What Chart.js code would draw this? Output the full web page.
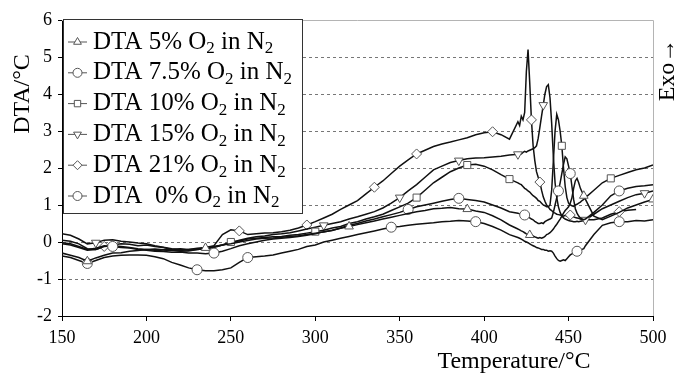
<!DOCTYPE html>
<html>
<head>
<meta charset="utf-8">
<script src="https://cdn.jsdelivr.net/npm/chart.js@4/dist/chart.umd.min.js"></script>
<style>
  body { margin: 0; background: #fff; }
  canvas { display: block; }
</style>
</head>
<body>
<canvas id="dta" width="682" height="378"></canvas>
<script>
// temperatures (°C), finer steps around the exothermic peaks
const temps = [150,155,160,165,170,175,180,185,190,195,200,205,210,215,220,225,230,235,240,245,
  250,255,260,265,270,275,280,285,290,295,300,305,310,315,320,325,330,335,340,345,
  350,355,360,365,370,375,380,385,390,395,400,405,410,415,
  420,421,422,423,424,425,426,427,428,429,430,431,432,433,434,435,436,437,438,439,440,
  441,442,443,444,445,446,447,448,449,450,451,452,453,454,455,456,457,458,459,460,
  465,470,475,480,485,490,495,500]

// DTA signal (°C) for each O2 level
const dta5 = [-0.3,-0.36,-0.42,-0.52,-0.43,-0.36,-0.3,-0.29,-0.25,-0.23,-0.2,-0.19,-0.21,-0.2,-0.23,-0.2,-0.19,-0.16,-0.13,-0.08,
  -0.05,0.0,0.04,0.08,0.1,0.11,0.13,0.15,0.17,0.2,0.24,0.27,0.32,0.37,0.42,0.47,0.52,0.57,0.62,0.67,
  0.72,0.77,0.82,0.85,0.9,0.91,0.93,0.9,0.89,0.84,0.8,0.71,0.6,0.46,
  0.35,0.33,0.3,0.28,0.25,0.22,0.2,0.19,0.17,0.16,0.14,0.12,0.1,0.12,0.1,0.12,0.15,0.2,0.22,0.25,0.3,
  0.35,0.42,0.48,0.55,0.62,0.7,0.78,0.85,0.9,0.95,1.05,1.2,1.45,1.65,1.72,1.6,1.45,1.35,1.25,1.15,
  0.7,0.6,0.7,0.8,0.92,1.0,1.08,1.15]

const dta75 = [-0.02,-0.05,-0.12,-0.2,-0.17,-0.1,-0.12,-0.15,-0.16,-0.2,-0.22,-0.25,-0.26,-0.28,-0.27,-0.3,-0.3,-0.32,-0.3,-0.25,
  -0.18,-0.1,-0.05,0.0,0.05,0.08,0.1,0.12,0.15,0.18,0.22,0.28,0.31,0.38,0.45,0.5,0.57,0.62,0.68,0.74,
  0.8,0.88,0.95,1.0,1.05,1.1,1.15,1.18,1.15,1.12,1.08,1.0,0.92,0.82,
  0.78,0.76,0.75,0.74,0.73,0.7,0.68,0.65,0.62,0.6,0.56,0.53,0.5,0.5,0.52,0.5,0.55,0.58,0.6,0.62,0.65,
  0.8,1.0,1.2,1.38,1.6,1.85,2.1,2.3,2.25,2.05,1.85,1.5,1.15,0.9,0.78,0.7,0.65,0.62,0.6,0.62,
  0.8,1.0,1.25,1.38,1.45,1.5,1.52,1.55]

const dta10 = [-0.05,-0.08,-0.15,-0.22,-0.2,-0.12,-0.1,-0.12,-0.15,-0.18,-0.2,-0.22,-0.24,-0.22,-0.25,-0.24,-0.2,-0.18,-0.15,-0.08,
  0.0,0.03,0.08,0.1,0.12,0.14,0.15,0.18,0.2,0.24,0.28,0.32,0.38,0.42,0.5,0.55,0.62,0.68,0.75,0.85,
  0.95,1.05,1.2,1.4,1.6,1.75,1.9,2.0,2.08,2.1,2.05,1.95,1.82,1.7,
  1.6,1.57,1.55,1.5,1.45,1.42,1.38,1.35,1.3,1.25,1.22,1.18,1.12,1.1,1.05,1.0,0.98,0.95,0.95,1.0,1.4,
  2.2,3.0,3.45,3.3,3.0,2.6,2.0,1.5,1.2,1.05,1.0,0.98,0.96,1.0,1.02,1.05,1.08,1.12,1.15,1.2,
  1.4,1.6,1.72,1.8,1.88,1.95,2.0,2.08]

const dta15 = [0.22,0.18,0.08,-0.05,-0.02,0.05,0.06,0.02,0.0,-0.03,-0.05,-0.1,-0.14,-0.18,-0.2,-0.22,-0.2,-0.18,-0.12,-0.08,
  -0.02,0.05,0.1,0.14,0.16,0.2,0.22,0.25,0.3,0.35,0.4,0.45,0.5,0.55,0.62,0.68,0.75,0.82,0.92,1.05,
  1.2,1.38,1.55,1.75,1.95,2.05,2.15,2.2,2.25,2.27,2.28,2.3,2.32,2.35,
  2.37,2.4,2.38,2.42,2.45,2.43,2.46,2.48,2.5,2.52,2.55,2.6,2.8,3.1,3.4,3.7,4.0,4.2,4.25,3.9,3.2,
  2.3,1.6,1.2,0.95,0.8,0.7,0.65,0.62,0.6,0.58,0.57,0.56,0.55,0.55,0.56,0.55,0.56,0.57,0.58,0.6,
  0.75,0.9,1.0,1.1,1.2,1.28,1.32,1.38]

const dta21 = [0.05,0.02,-0.05,-0.18,-0.2,-0.12,-0.08,-0.05,-0.06,-0.1,-0.08,-0.12,-0.15,-0.2,-0.18,-0.2,-0.17,-0.15,-0.1,0.2,
  0.33,0.3,0.2,0.22,0.24,0.25,0.28,0.32,0.38,0.46,0.55,0.65,0.75,0.88,1.0,1.12,1.3,1.48,1.65,1.85,
  2.05,2.22,2.38,2.48,2.58,2.65,2.7,2.76,2.82,2.9,2.95,2.98,2.9,2.78,
  3.25,3.15,3.4,3.3,3.5,4.6,5.2,4.3,3.3,2.6,2.2,1.9,1.75,1.62,1.4,1.22,1.1,1.0,0.95,0.88,0.85,
  0.8,0.78,0.75,0.74,0.73,0.72,0.7,0.72,0.7,0.72,0.73,0.7,0.68,0.66,0.65,0.64,0.62,0.6,0.62,0.6,
  0.6,0.65,0.75,0.82,0.86,0.88,null,null]

const dta0 = [-0.38,-0.42,-0.5,-0.58,-0.5,-0.42,-0.38,-0.36,-0.35,-0.35,-0.36,-0.4,-0.45,-0.55,-0.62,-0.7,-0.75,-0.78,-0.78,-0.75,
  -0.7,-0.55,-0.42,-0.4,-0.38,-0.35,-0.3,-0.25,-0.2,-0.12,-0.08,0.0,0.05,0.1,0.15,0.2,0.25,0.3,0.35,0.4,
  0.42,0.45,0.48,0.5,0.52,0.55,0.56,0.58,0.57,0.55,0.5,0.42,0.32,0.2,
  0.12,0.1,0.08,0.05,0.02,0.0,-0.02,-0.05,-0.08,-0.1,-0.12,-0.15,-0.16,-0.18,-0.2,-0.2,-0.22,-0.22,-0.25,-0.24,-0.25,
  -0.3,-0.38,-0.45,-0.5,-0.52,-0.5,-0.48,-0.5,-0.45,-0.4,-0.35,-0.32,-0.3,-0.28,-0.25,-0.25,-0.22,-0.2,-0.18,-0.1,
  0.2,0.45,0.52,0.55,0.55,0.58,0.57,0.6]

const labels = ['DTA 5% O₂ in N₂', 'DTA 7.5% O₂ in N₂', 'DTA 10% O₂ in N₂',
  'DTA 15% O₂ in N₂', 'DTA 21% O₂ in N₂', 'DTA  0% O₂ in N₂']

// temperatures where a marker is shown on each curve
const marks5 = [165, 235, 320, 390, 427, 459, 500]
const marks75 = [180, 240, 355, 385, 424, 444, 451, 480]
const marks10 = [250, 300, 360, 390, 415, 446, 475]
const marks15 = [170, 305, 350, 385, 420, 435, 460, 495]
const marks21 = [175, 255, 295, 335, 360, 405, 428, 433, 451, 480]
const marks0 = [165, 230, 260, 345, 395, 455, 480]

const serif = "'Liberation Serif', 'Times New Roman', serif"

function makeSet(label, vals, marks, style, rot) {
  return {
    label: label,
    data: vals.map((v, i) => ({ x: temps[i], y: v })),
    borderColor: '#111',
    borderWidth: 1.5,
    backgroundColor: '#fff',
    pointStyle: style,
    rotation: rot,
    pointBorderColor: '#555',
    pointBorderWidth: 1,
    pointBackgroundColor: '#fff',
    pointRadius: c => marks.includes(temps[c.dataIndex]) ? 5 : 0,
    pointHoverRadius: 0,
    tension: 0,
    spanGaps: false
  }
}

const sets = [
  makeSet(labels[0], dta5, marks5, 'triangle', 0),
  makeSet(labels[1], dta75, marks75, 'circle', 0),
  makeSet(labels[2], dta10, marks10, 'rect', 0),
  makeSet(labels[3], dta15, marks15, 'triangle', 180),
  makeSet(labels[4], dta21, marks21, 'rectRot', 0),
  makeSet(labels[5], dta0, marks0, 'circle', 0)
]

// text with subscript 2 (O₂, N₂)
function richText(ctx, text, x, y, size) {
  const parts = text.split('₂')
  let cx = x
  parts.forEach((p, i) => {
    ctx.font = size + 'px ' + serif
    ctx.fillText(p, cx, y)
    cx += ctx.measureText(p).width
    if (i < parts.length - 1) {
      ctx.font = Math.round(size * 0.66) + 'px ' + serif
      ctx.fillText('2', cx, y + size * 0.28)
      cx += ctx.measureText('2').width
    }
  })
}

const decor = {
  id: 'decor',
  afterDatasetsDraw(chart) {
    const ctx = chart.ctx
    const a = chart.chartArea
    ctx.save()
    // plot frame top and right
    ctx.strokeStyle = '#b4b4b4'
    ctx.lineWidth = 1
    ctx.beginPath()
    ctx.moveTo(a.left, a.top + 0.5)
    ctx.lineTo(a.right + 0.5, a.top + 0.5)
    ctx.lineTo(a.right + 0.5, a.bottom)
    ctx.stroke()

    // legend box
    const bx = 63, by = 19, bw = 239, bh = 194
    ctx.fillStyle = '#fff'
    ctx.fillRect(bx, by, bw, bh)
    ctx.strokeStyle = '#333'
    ctx.strokeRect(bx + 0.5, by + 0.5, bw, bh)
    chart.data.datasets.forEach((ds, i) => {
      const y = 42 + i * 30.8
      ctx.strokeStyle = '#555'
      ctx.lineWidth = 1
      ctx.beginPath()
      ctx.moveTo(68, y)
      ctx.lineTo(87, y)
      ctx.stroke()
      ctx.fillStyle = '#fff'
      Chart.helpers.drawPoint(ctx, { pointStyle: ds.pointStyle, rotation: ds.rotation, radius: 4.5, borderWidth: 1 }, 77.5, y)
      ctx.fillStyle = '#000'
      ctx.textBaseline = 'middle'
      ctx.textAlign = 'left'
      richText(ctx, ds.label, 93, y, 25)
    })

    // axis titles
    ctx.fillStyle = '#000'
    ctx.font = '24px ' + serif
    ctx.textAlign = 'center'
    ctx.textBaseline = 'middle'
    ctx.fillText('Temperature/°C', 514, 362)
    ctx.save()
    ctx.translate(23, 94)
    ctx.rotate(-Math.PI / 2)
    ctx.fillText('DTA/°C', 0, 0)
    ctx.restore()
    ctx.save()
    ctx.translate(668, 70)
    ctx.rotate(-Math.PI / 2)
    ctx.fillText('Exo→', 0, 0)
    ctx.restore()
    ctx.restore()
  }
}

new Chart(document.getElementById('dta'), {
  type: 'line',
  data: { datasets: sets },
  options: {
    responsive: false,
    animation: false,
    events: [],
    layout: { padding: { top: 20, right: 29, left: 0, bottom: 0 } },
    plugins: { legend: { display: false }, tooltip: { enabled: false } },
    scales: {
      x: {
        type: 'linear',
        min: 150, max: 500,
        afterFit: s => { s.height = 62 },
        ticks: { stepSize: 50, color: '#000', padding: 6, font: { family: serif, size: 18 } },
        grid: { drawOnChartArea: false, drawTicks: true, tickLength: 5, tickColor: '#000' },
        border: { color: '#000', width: 1 }
      },
      y: {
        min: -2, max: 6,
        afterFit: s => { s.width = 62 },
        ticks: { stepSize: 1, color: '#000', padding: 6, font: { family: serif, size: 18 } },
        grid: {
          color: c => (c.tick && (c.tick.value === 6 || c.tick.value === -2)) ? 'rgba(0,0,0,0)' : '#777',
          tickColor: '#000',
          tickLength: 4,
          lineWidth: 1
        },
        border: { color: '#000', width: 1, dash: [3, 3] }
      }
    }
  },
  plugins: [decor]
})
</script>
</body>
</html>
